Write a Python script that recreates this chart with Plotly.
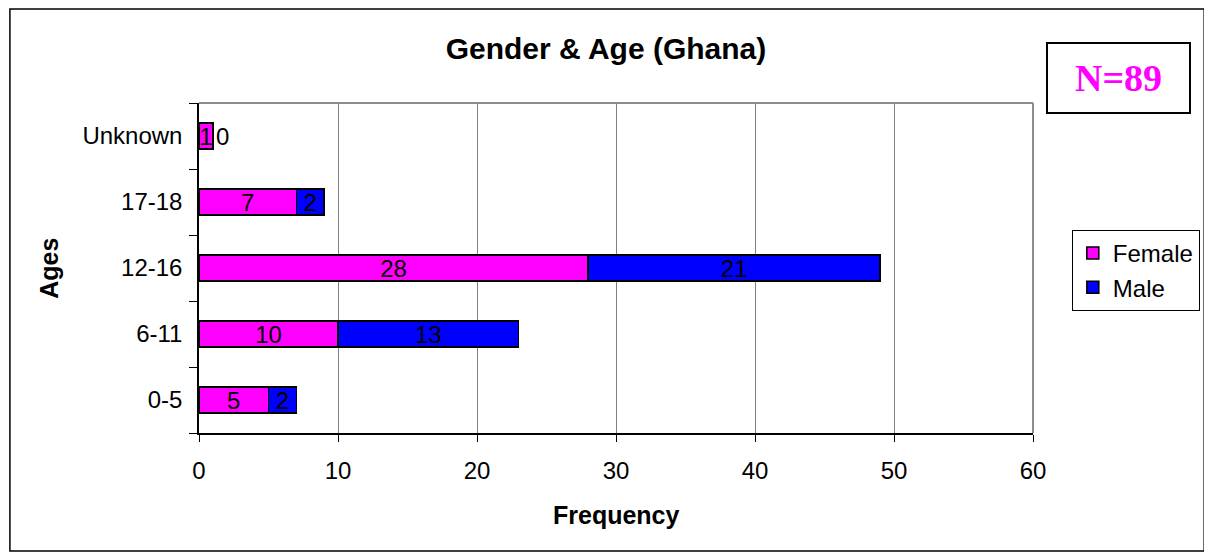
import plotly.graph_objects as go

ages = ['0-5', '6-11', '12-16', '17-18', 'Unknown']
female = [5, 10, 28, 7, 1]
male = [2, 13, 21, 2, 0]

# the page body adds an 8px margin, so the figure is drawn 8px smaller
OFF = 8
W, H = 1212 - OFF, 553 - OFF
# plot area edges in page pixels
X0, X1, Y0, Y1 = 199, 1037, 103, 433
L, T = X0 - OFF, Y0 - OFF
R, B = W - (X1 - OFF), H - (Y1 - OFF)
PW, PH = X1 - X0, Y1 - Y0


def px(x):
    return (x - X0) / PW


def py(y):
    return (Y1 - y) / PH


font = 'Liberation Sans, Arial, sans-serif'


def pos_for(vals):
    # zero-width bars lose inside text, so push those outside
    return ['outside' if v == 0 else 'inside' for v in vals]


fig = go.Figure()
fig.add_trace(go.Bar(y=ages, x=female, name='Female', orientation='h',
                     marker=dict(color='#FF00FF', line=dict(color='black', width=1.5)),
                     text=female, textposition=pos_for(female), textangle=0,
                     constraintext='none', insidetextanchor='middle',
                     textfont=dict(family=font, size=24, color='black')))
fig.add_trace(go.Bar(y=ages, x=male, name='Male', orientation='h',
                     marker=dict(color='#0000FF', line=dict(color='black', width=1.5)),
                     text=male, textposition=pos_for(male), textangle=0,
                     constraintext='none', insidetextanchor='middle',
                     textfont=dict(family=font, size=24, color='black'),
                     cliponaxis=False))

fig.update_layout(
    width=W, height=H,
    barmode='stack', bargap=0.6,
    margin=dict(l=L, r=R, t=T, b=B),
    paper_bgcolor='white', plot_bgcolor='white',
    font=dict(family=font, size=24, color='black'),
    title=dict(text='<b>Gender & Age (Ghana)</b>', x=(606 - OFF) / W, xanchor='center',
               y=1 - (48 - OFF) / H, yanchor='middle', yref='container',
               font=dict(family=font, size=30, color='black')),
    legend=dict(x=px(1076), y=py(230), xanchor='left', yanchor='top',
                bordercolor='black', borderwidth=1, bgcolor='white',
                traceorder='normal', font=dict(family=font, size=24),
                itemwidth=30, tracegroupgap=4),
)

fig.update_xaxes(range=[0, 60], dtick=10, showgrid=True, gridcolor='#808080', gridwidth=1,
                 showline=True, linecolor='black', linewidth=1.5,
                 ticks='outside', ticklen=7, tickcolor='black', ticklabelstandoff=8,
                 zeroline=False, tickfont=dict(size=24))
fig.update_yaxes(type='category', categoryorder='array', categoryarray=ages,
                 showline=True, linecolor='black', linewidth=1.5, showgrid=False,
                 ticks='outside', ticklen=8, tickcolor='black', tickson='boundaries',
                 ticklabelstandoff=10, tickfont=dict(size=24))

# grey frame on top and right of the plot area
fig.add_shape(type='line', xref='paper', yref='paper', x0=0, x1=1, y0=1, y1=1,
              line=dict(color='#8c8c8c', width=2), layer='below')
fig.add_shape(type='line', xref='paper', yref='paper', x0=1, x1=1, y0=0, y1=1,
              line=dict(color='#8c8c8c', width=2), layer='below')

# outer chart border
fig.add_shape(type='rect', xref='paper', yref='paper',
              x0=px(OFF + 1), x1=px(1209), y0=py(551), y1=py(OFF + 1),
              line=dict(color='black', width=1.5), layer='below')

# axis titles
fig.add_annotation(text='<b>Frequency</b>', xref='paper', yref='paper',
                   x=px(618), y=py(515), xanchor='center', yanchor='middle',
                   showarrow=False, font=dict(family=font, size=25, color='black'))
fig.add_annotation(text='<b>Ages</b>', xref='paper', yref='paper',
                   x=px(48), y=py(268), xanchor='center', yanchor='middle',
                   showarrow=False, textangle=-90,
                   font=dict(family=font, size=25, color='black'))

# N box
fig.add_annotation(text='<b>N=89</b>', xref='paper', yref='paper',
                   x=px(1123), y=py(78), xanchor='center', yanchor='middle',
                   showarrow=False,
                   width=139, height=66, bordercolor='black', borderwidth=2,
                   bgcolor='white', align='center', valign='middle',
                   font=dict(family='Liberation Serif, Times New Roman, serif',
                             size=38, color='#FF00FF'))

fig.write_html('out.html')
